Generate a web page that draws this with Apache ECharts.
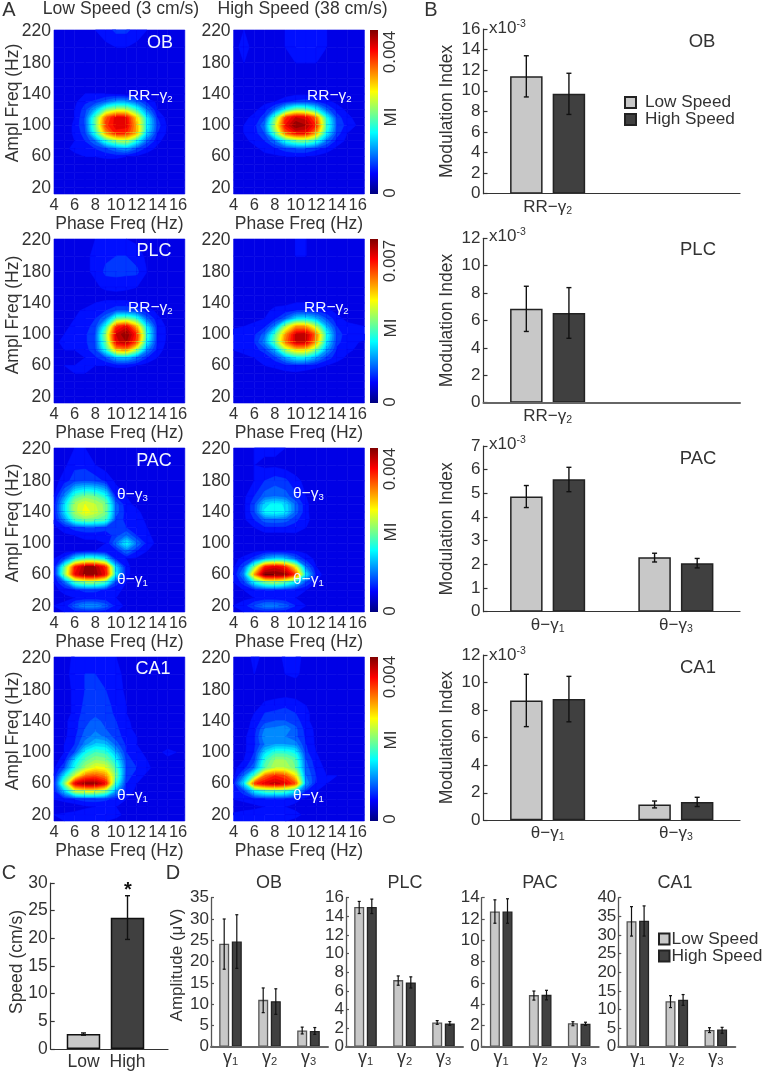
<!DOCTYPE html>
<html><head><meta charset="utf-8">
<style>html,body{margin:0;padding:0;background:#fff}#c{width:762px;height:1072px}</style>
<script src="https://cdn.jsdelivr.net/npm/echarts@6/dist/echarts.min.js"></script>
</head><body><div id="c"></div>
<script>
// ---------- comodulogram grids (percent of colour-bar range), rows top to bottom ----------
const phaseNodes=[4,5,6,7,8,9,10,11,12,13,14,15,16.65];
const amplNodes=[222,200,180,160,150,140,130,120,110,100,90,80,70,60,50,40,30,20,12];
const heatOBLow=[
[10,11,11,11,12,14,17,17,14,12,11,10,10],
[10,12,10,10,10,11,12,12,11,10,10,10,10],
[9,9,8,8,8,8,8,8,8,8,9,9,9],
[8,8,8,8,8,8,8,8,8,8,8,8,9],
[8,8,8,8,8,8,8,8,8,8,8,8,8],
[8,8,9,12,12,12,11,10,9,8,8,8,8],
[8,8,11,15,17,22,28,28,22,15,11,8,8],
[8,9,12,18,30,48,56,56,42,24,12,9,8],
[8,9,12,20,46,78,90,88,66,36,16,10,8],
[8,9,13,20,48,82,90,90,70,38,18,11,9],
[8,9,13,18,42,72,86,84,70,34,16,11,9],
[9,10,12,16,24,42,52,56,40,22,13,10,9],
[10,11,13,14,16,19,24,28,20,14,11,9,9],
[11,11,11,12,12,13,13,12,11,10,9,9,9],
[10,10,10,10,9,9,9,9,9,9,9,9,9],
[9,9,9,9,9,9,9,9,9,9,9,9,9],
[9,9,9,9,9,9,9,9,9,9,9,9,9],
[9,9,9,9,9,9,10,9,9,9,9,9,9],
[9,9,9,9,9,9,9,9,9,9,9,9,9]];
const heatOBHigh=[
[11,12,11,9,9,12,12,12,12,12,11,9,9],
[11,13,11,9,9,12,12,12,12,12,11,9,9],
[11,12,11,10,9,11,12,12,12,11,10,9,9],
[9,11,10,9,9,9,9,9,9,9,9,9,9],
[9,9,9,9,9,9,9,9,9,9,9,9,9],
[9,9,9,9,10,10,11,11,11,10,9,9,9],
[9,9,9,11,12,15,17,18,16,13,11,9,9],
[8,9,11,14,22,38,50,48,38,22,14,11,9],
[8,11,13,18,46,82,92,90,76,40,18,13,9],
[9,12,14,24,56,88,100,96,84,44,20,14,10],
[10,12,14,20,48,78,88,88,72,38,18,12,10],
[10,11,13,16,24,40,48,50,42,24,14,11,10],
[9,10,11,13,15,18,20,20,17,14,11,10,9],
[9,9,10,11,11,12,12,12,11,10,9,9,9],
[8,8,9,9,9,9,9,9,9,9,8,8,8],
[8,8,8,8,8,8,8,8,8,8,8,8,8],
[8,8,8,8,8,8,8,8,8,8,8,8,8],
[9,8,8,8,8,8,8,8,8,8,8,8,8],
[12,9,9,8,8,8,8,8,8,8,8,8,8]];
const heatPLCLow=[
[9,9,9,9,12,12,12,12,11,9,9,9,9],
[9,9,9,11,13,15,16,16,14,11,9,9,9],
[10,9,9,11,13,17,17,17,17,12,10,9,9],
[11,9,9,10,11,13,14,13,12,10,9,9,9],
[11,9,9,9,9,10,10,10,9,9,9,9,9],
[9,9,9,10,12,13,13,13,12,10,9,9,9],
[9,9,11,13,14,16,20,20,18,14,11,9,9],
[9,10,12,14,16,24,46,50,42,22,13,10,9],
[9,11,13,14,18,40,82,90,70,36,15,11,9],
[10,12,13,15,20,52,92,100,84,42,16,11,9],
[11,13,13,15,20,48,90,96,80,38,15,11,9],
[11,12,12,14,19,40,70,74,54,26,14,10,9],
[10,10,11,12,15,20,30,32,24,16,12,9,9],
[11,12,12,12,12,12,13,13,12,10,9,9,9],
[10,11,12,12,11,10,9,9,9,9,9,9,9],
[9,9,9,9,9,9,9,9,9,9,9,9,9],
[10,9,9,9,9,9,9,9,9,9,9,9,9],
[12,9,9,10,9,9,9,9,9,9,9,9,9],
[9,9,9,9,9,9,9,9,9,9,9,9,9]];
const heatPLCHigh=[
[9,9,9,9,9,11,12,12,10,9,9,9,9],
[9,9,9,10,9,10,12,12,10,9,9,9,9],
[9,9,12,10,9,9,10,10,9,9,9,9,9],
[10,11,11,10,9,9,9,9,9,9,9,9,9],
[9,10,10,10,9,9,9,9,9,9,9,9,9],
[9,9,9,10,11,11,12,12,12,11,9,9,9],
[9,9,10,11,13,14,16,16,15,13,11,9,9],
[9,10,11,12,15,22,34,36,30,20,13,11,10],
[11,12,13,15,26,54,72,72,56,30,16,13,12],
[14,15,15,22,44,72,92,94,76,40,18,14,15],
[14,15,16,26,48,76,92,92,72,36,17,14,11],
[12,13,14,18,30,54,66,66,50,28,15,13,10],
[10,11,12,13,18,28,36,36,28,18,14,11,9],
[9,10,11,12,13,14,16,15,13,12,10,9,9],
[9,9,9,10,10,11,11,10,10,9,9,9,9],
[9,9,9,9,9,9,9,9,9,9,9,9,9],
[9,9,9,9,9,9,9,9,9,9,9,9,9],
[11,11,9,9,9,9,9,9,9,9,9,9,9],
[11,10,9,9,9,9,9,9,9,9,9,9,9]];
const heatPACLow=[
[9,10,12,12,10,10,9,9,9,9,9,9,9],
[9,11,15,15,12,10,9,9,9,9,9,9,9],
[10,14,18,19,18,15,11,10,9,9,9,9,9],
[12,26,44,50,48,40,15,12,10,9,9,9,9],
[13,34,54,60,56,50,22,13,11,9,9,9,9],
[13,34,54,62,58,50,22,14,13,10,9,9,9],
[13,26,44,50,48,44,18,15,14,11,9,9,9],
[11,14,18,20,20,18,17,16,14,12,10,9,9],
[10,11,12,13,13,13,18,24,16,13,10,9,9],
[9,10,11,11,11,12,24,38,24,14,11,9,9],
[9,10,11,12,12,12,14,24,16,12,10,9,9],
[12,18,36,44,44,36,15,12,11,10,9,9,9],
[12,46,84,96,96,84,34,13,10,9,9,9,9],
[12,50,88,98,98,88,37,13,10,9,9,9,9],
[12,22,44,52,52,44,18,12,10,9,9,9,9],
[11,13,15,17,17,15,13,11,9,9,9,9,9],
[11,11,12,13,13,13,12,10,9,9,9,9,9],
[12,13,22,27,27,22,14,11,9,9,9,9,9],
[11,12,14,14,14,13,12,10,9,9,9,9,9]];
const heatPACHigh=[
[10,10,12,13,13,12,10,9,9,9,9,9,9],
[9,10,12,11,11,10,10,9,9,9,9,9,9],
[9,10,12,16,18,17,13,11,9,9,9,9,9],
[9,11,16,22,24,22,17,12,9,9,9,9,9],
[9,11,19,34,38,35,22,13,9,9,9,9,9],
[9,11,19,37,39,36,22,13,9,9,9,9,9],
[9,11,16,22,23,22,17,13,10,9,9,9,9],
[9,10,12,15,15,15,14,12,10,9,9,9,9],
[10,10,10,10,10,10,11,11,9,9,9,9,9],
[10,9,9,9,9,9,10,11,10,9,9,9,9],
[10,10,11,12,12,12,12,11,10,9,9,9,9],
[11,13,18,28,34,32,22,14,11,10,9,9,9],
[11,20,50,84,90,84,62,24,12,10,9,9,9],
[12,26,72,100,100,98,82,36,14,10,9,9,9],
[12,18,38,50,54,48,36,20,12,9,9,9,9],
[11,12,14,16,16,15,13,12,10,9,9,9,9],
[11,11,12,13,13,12,12,11,9,9,9,9,9],
[12,14,20,25,25,22,16,12,10,9,9,9,9],
[11,12,13,14,13,13,12,10,9,9,9,9,9]];
const heatCA1Low=[
[9,10,13,15,15,14,12,10,9,9,9,9,9],
[9,10,14,16,16,15,13,11,9,8,8,9,9],
[9,10,13,16,17,16,14,11,9,9,9,9,9],
[9,10,13,17,18,17,15,12,10,9,9,9,9],
[9,10,13,18,19,18,15,12,10,9,9,9,9],
[9,11,14,19,21,19,16,13,10,9,9,9,9],
[9,11,14,20,23,20,17,13,11,9,9,9,9],
[9,11,15,22,26,23,18,14,12,9,9,9,9],
[10,12,16,26,33,32,22,15,12,10,9,9,9],
[10,12,20,38,44,42,30,16,13,11,10,14,10],
[10,14,34,46,52,50,38,18,14,12,10,10,9],
[11,20,40,54,62,60,45,20,16,13,10,9,9],
[12,36,58,76,80,74,50,18,14,11,9,9,9],
[14,50,90,98,98,88,42,16,12,10,9,9,9],
[14,32,56,60,60,52,28,14,11,9,9,9,9],
[12,14,16,18,18,17,14,12,10,9,9,9,9],
[10,8,9,11,12,12,12,10,9,9,9,9,9],
[12,13,14,15,15,14,13,11,9,9,9,9,9],
[11,12,13,13,13,12,11,9,9,9,9,9,9]];
const heatCA1High=[
[9,10,13,11,10,13,14,10,9,9,9,9,9],
[9,10,12,10,10,12,13,10,9,9,9,9,9],
[10,9,9,9,9,9,9,9,9,9,9,9,9],
[12,10,10,13,14,15,14,12,10,9,9,9,9],
[10,10,12,16,17,18,16,13,10,9,9,9,9],
[9,10,13,18,20,20,18,13,10,9,9,9,9],
[9,10,14,24,25,27,21,14,11,9,9,9,9],
[10,11,15,27,25,24,21,15,11,9,9,9,9],
[10,11,15,24,28,28,26,16,11,10,9,10,9],
[10,11,16,34,42,42,38,17,12,10,10,10,9],
[10,12,18,42,52,52,46,20,13,10,10,10,9],
[11,14,24,46,56,56,48,22,14,11,10,9,9],
[10,24,46,76,84,80,64,24,16,12,12,10,9],
[14,36,82,90,94,90,80,28,14,12,10,10,10],
[13,18,36,44,46,44,34,16,12,10,9,9,9],
[12,13,14,15,15,15,13,11,10,9,9,9,9],
[9,10,11,12,12,12,11,10,9,9,9,9,9],
[13,14,14,15,15,14,13,11,9,9,9,9,9],
[12,12,13,13,13,12,11,9,9,9,9,9,9]];
const phaseTicks=[4,6,8,10,12,14,16];
const amplTicks=[20,60,100,140,180,220];

// ---------- Modulation index (x10^-3) ----------
const catRR=['RR−γ2',''];
const catTheta=['θ−γ1','θ−γ3'];
const miOBLow=[11.4], miOBLowErr=[[9.4,13.4]], miOBHigh=[9.7], miOBHighErr=[[7.7,11.7]];
const miPLCLow=[6.85], miPLCLowErr=[[5.2,8.5]], miPLCHigh=[6.55], miPLCHighErr=[[4.7,8.4]];
const miPACLow=[4.87,2.3], miPACLowErr=[[4.4,5.33],[2.1,2.47]], miPACHigh=[5.6,2.05], miPACHighErr=[[5.07,6.1],[1.85,2.25]];
const miCA1Low=[8.7,1.15], miCA1LowErr=[[6.8,10.6],[0.9,1.4]], miCA1High=[8.8,1.33], miCA1HighErr=[[7.15,10.45],[1,1.67]];

// ---------- Speed ----------
const speedCats=['Low','High'];
const speedVals=[2.7,23.7];
const speedErr=[[2.5,2.9],[19.8,27.7]];

// ---------- Amplitude (uV) ----------
const catGamma=['γ1','γ2','γ3'];
const ampOBLow=[24.2,11,3.8], ampOBLowErr=[[18.2,30],[8,13.8],[3,4.6]];
const ampOBHigh=[24.7,10.7,3.7], ampOBHighErr=[[18.4,31],[7.6,13.6],[2.9,4.5]];
const ampPLCLow=[15,7.15,2.6], ampPLCLowErr=[[14.3,15.6],[6.6,7.6],[2.4,2.8]];
const ampPLCHigh=[15,6.9,2.5], ampPLCHighErr=[[14.3,15.85],[6.3,7.5],[2.3,2.7]];
const ampPACLow=[12.7,4.85,2.2], ampPACLowErr=[[11.6,13.8],[4.38,5.23],[1.97,2.35]];
const ampPACHigh=[12.7,4.87,2.15], ampPACHighErr=[[11.6,13.9],[4.4,5.3],[2,2.3]];
const ampCA1Low=[33.7,12.2,4.5], ampCA1LowErr=[[29.7,37.6],[10.5,13.7],[3.8,5.1]];
const ampCA1High=[33.8,12.6,4.6], ampCA1HighErr=[[29.7,37.8],[11.1,14],[3.6,5.2]];

// ---------- styling ----------
const FF='"Liberation Sans",Arial,sans-serif', TXT='#333';
const LOW='#c8c8c8', HIGH='#404040';
const LEVEL_STEP=4;

function jet(v){
  const c=t=>Math.round(255*Math.max(0,Math.min(1,t)));
  const r=1.5-Math.abs(4*v-3), g=1.5-Math.abs(4*v-2), b=1.5-Math.abs(4*v-1);
  return `rgb(${c(r)},${c(g)},${c(b)})`;
}
function clipQuad(pts,L){ // keep the part of a quad with value >= L (filled contour)
  const out=[];
  for(let i=0;i<pts.length;i++){
    const a=pts[i], b=pts[(i+1)%pts.length];
    if(a[2]>=L) out.push(a);
    if((a[2]>=L)!==(b[2]>=L)){
      const t=(L-a[2])/(b[2]-a[2]);
      out.push([a[0]+t*(b[0]-a[0]),a[1]+t*(b[1]-a[1]),L]);
    }
  }
  return out;
}

const grids=[],xAxes=[],yAxes=[],series=[],graphics=[];
function addGrid(l,t,r,b,xa,ya){
  grids.push({left:l,top:t,width:r-l,height:b-t,containLabel:false});
  const i=grids.length-1;
  xAxes.push(Object.assign({gridIndex:i},xa));
  yAxes.push(Object.assign({gridIndex:i},ya));
  return i;
}
function text(x,y,t,size,opt){
  graphics.push(Object.assign({type:'text',x,y,z:100,silent:true,rotation:(opt&&opt.rot)||0,
    style:{text:t,fontFamily:FF,fontSize:size,fill:(opt&&opt.fill)||TXT,align:(opt&&opt.align)||'center',verticalAlign:'middle',
      fontWeight:(opt&&opt.weight)||'normal',
      rich:{s:{fontFamily:FF,fontSize:size*0.62,fill:(opt&&opt.fill)||TXT,verticalAlign:'bottom',padding:[size*0.45,0,0,0]},
            u:{fontFamily:FF,fontSize:size*0.62,fill:(opt&&opt.fill)||TXT,verticalAlign:'top',padding:[0,0,size*0.45,0]},
            b:{fontFamily:FF,fontSize:size,fill:(opt&&opt.fill)||TXT}}}}));
}
const subFmt=v=>{const m=/^(.*)(\d)$/.exec(v);return m?`{b|${m[1]}}{s|${m[2]}}`:v;};
const subRich=(size)=>({b:{fontFamily:FF,fontSize:size,color:TXT},s:{fontFamily:FF,fontSize:size*0.62,color:TXT,verticalAlign:'bottom',padding:[size*0.45,0,0,0]}});

function heat(l,t,mat){
  const r=l+130.8,b=t+164;
  const i=addGrid(l,t,r,b,
   {type:'value',min:4,max:16.65,name:'Phase Freq (Hz)',nameLocation:'middle',nameGap:19,
    nameTextStyle:{fontFamily:FF,fontSize:17.5,color:TXT},
    axisLine:{show:false},axisTick:{show:false},splitLine:{show:false},
    axisLabel:{customValues:phaseTicks,margin:3,fontFamily:FF,fontSize:16.5,color:TXT}},
   {type:'value',min:12,max:222,
    axisLine:{show:false},axisTick:{show:false},splitLine:{show:false},
    axisLabel:{customValues:amplTicks,margin:3,fontFamily:FF,fontSize:17.5,color:TXT}});
  const data=[];
  for(let rr=0;rr<amplNodes.length-1;rr++)for(let c=0;c<phaseNodes.length-1;c++)
    data.push([phaseNodes[c],amplNodes[rr],c,rr]);
  series.push({type:'custom',coordinateSystem:'cartesian2d',xAxisIndex:i,yAxisIndex:i,silent:true,
    animation:false,progressive:0,encode:{x:0,y:1},data,
    renderItem(p,api){
      const c=api.value(2),rr=api.value(3);
      const corner=(ci,ri)=>{const q=api.coord([phaseNodes[ci],amplNodes[ri]]);return [q[0],q[1],mat[ri][ci]];};
      const pts=[corner(c,rr),corner(c+1,rr),corner(c+1,rr+1),corner(c,rr+1)];
      const vals=pts.map(q=>q[2]);
      const lo=Math.floor(Math.min(...vals)/LEVEL_STEP)*LEVEL_STEP, hi=Math.max(...vals);
      const children=[];
      for(let L=lo;L<=hi;L+=LEVEL_STEP){
        const poly=L===lo?pts:clipQuad(pts,L);
        if(poly.length<3)continue;
        const col=jet((L+LEVEL_STEP/2)/100);
        children.push({type:'polygon',shape:{points:poly.map(q=>[q[0],q[1]])},
          style:{fill:col,stroke:col,lineWidth:0.6}});
      }
      return {type:'group',children};
    }});
}
function colorbar(t,peak){
  const i=addGrid(370,t,378,t+164,
    {type:'category',data:['MI'],show:false},
    {type:'value',min:0,max:peak,show:false});
  const stops=[];
  for(let k=0;k<=32;k++)stops.push({offset:k/32,color:jet(k/32)});
  series.push({type:'bar',xAxisIndex:i,yAxisIndex:i,data:[peak],barWidth:'100%',animation:false,silent:true,
    itemStyle:{color:{type:'linear',x:0,y:1,x2:0,y2:0,colorStops:stops}}});
}
function errSeries(i,vals,offset,cap,lw,col){
  series.push({type:'custom',coordinateSystem:'cartesian2d',xAxisIndex:i,yAxisIndex:i,silent:true,animation:false,z:5,
    encode:{x:0,y:[1,2]},
    data:vals.map((e,k)=>[k,e[0],e[1]]),
    renderItem(p,api){
      const a=api.coord([api.value(0),api.value(1)]),b=api.coord([api.value(0),api.value(2)]);
      const x=a[0]+offset,st={stroke:col,lineWidth:lw};
      return {type:'group',children:[
        {type:'line',shape:{x1:x,y1:a[1],x2:x,y2:b[1]},style:st},
        {type:'line',shape:{x1:x-cap,y1:a[1],x2:x+cap,y2:a[1]},style:st},
        {type:'line',shape:{x1:x-cap,y1:b[1],x2:x+cap,y2:b[1]},style:st}]};
    }});
}
function miPanel(t,b,max,intv,cats,low,lowE,high,highE,axisCol,axisW){
  const i=addGrid(483.5,t,740,b,
   {type:'category',data:cats,axisTick:{show:false},z:6,
    axisLine:{lineStyle:{color:axisCol,width:axisW}},
    axisLabel:{interval:0,formatter:subFmt,rich:subRich(17),margin:4}},
   {type:'value',min:0,max,interval:intv,name:'Modulation Index',nameLocation:'middle',nameGap:27,
    nameTextStyle:{fontFamily:FF,fontSize:17.5,color:TXT},
    axisLine:{show:true,lineStyle:{color:'#333',width:1.2}},
    axisTick:{show:true,inside:true,length:4,lineStyle:{color:'#333',width:1.2}},splitLine:{show:false},
    axisLabel:{margin:3,fontFamily:FF,fontSize:17,color:TXT}});
  series.push({type:'bar',name:'Low Speed',xAxisIndex:i,yAxisIndex:i,data:low,barWidth:32.5,barGap:'31%',animation:false,silent:true,
    itemStyle:{color:LOW,borderColor:'#222',borderWidth:1.5}});
  series.push({type:'bar',name:'High Speed',xAxisIndex:i,yAxisIndex:i,data:high,barWidth:32.5,barGap:'31%',animation:false,silent:true,
    itemStyle:{color:HIGH,borderColor:'#222',borderWidth:1.5}});
  errSeries(i,lowE,-21.3,2.5,1.4,'#111');
  errSeries(i,highE,21.3,2.5,1.4,'#111');
}
function ampPanel(l,max,intv,low,lowE,high,highE){
  const i=addGrid(l,897.7,l+117,1046.7,
   {type:'category',data:catGamma,axisTick:{show:false},z:6,
    axisLine:{lineStyle:{color:'#666',width:2}},
    axisLabel:{interval:0,formatter:subFmt,rich:subRich(18),margin:2}},
   {type:'value',min:0,max,interval:intv,
    axisLine:{show:true,lineStyle:{color:'#555',width:1.3}},
    axisTick:{show:true,inside:true,length:3,lineStyle:{color:'#555',width:1.2}},splitLine:{show:false},
    axisLabel:{margin:2,fontFamily:FF,fontSize:17,color:TXT}});
  series.push({type:'bar',name:'Low Speed',xAxisIndex:i,yAxisIndex:i,data:low,barWidth:10,barGap:'26%',animation:false,silent:true,
    itemStyle:{color:LOW,borderColor:'#555',borderWidth:1.3}});
  series.push({type:'bar',name:'High Speed',xAxisIndex:i,yAxisIndex:i,data:high,barWidth:10,barGap:'26%',animation:false,silent:true,
    itemStyle:{color:HIGH,borderColor:'#222',borderWidth:1.3}});
  errSeries(i,lowE,-6.3,1.5,1.2,'#111');
  errSeries(i,highE,6.3,1.5,1.2,'#111');
}

// ---------- build: panel A ----------
const heatTops=[30,239,448,657];
[[heatOBLow,heatOBHigh],[heatPLCLow,heatPLCHigh],[heatPACLow,heatPACHigh],[heatCA1Low,heatCA1High]].forEach((m,k)=>{
  heat(54,heatTops[k],m[0]);
  heat(233.6,heatTops[k],m[1]);
});
[103,315,523,731].forEach(y=>text(13,y,'Ampl Freq (Hz)',17.5,{rot:Math.PI/2}));
[0.004,0.007,0.004,0.004].forEach((p,k)=>colorbar(heatTops[k],p));
[['0.004',52,193,117],['0.007',261,402,328],['0.004',469,611,532],['0.004',677,819,740]].forEach(a=>{
  text(390,a[1],a[0],17,{rot:Math.PI/2});
  text(390,a[2],'0',17,{rot:Math.PI/2});
  text(391,a[3],'MI',17,{rot:Math.PI/2});
});
const W='#f2f6ff';
text(160,43,'OB',18,{fill:W});text(154,251,'PLC',18,{fill:W});text(154,461,'PAC',18,{fill:W});text(153,669,'CA1',18,{fill:W});
const ann=(x,y,a,sub)=>text(x,y,`{b|${a}}{s|${sub}}`,15.5,{fill:W,align:'left'});
ann(128,96,'RR−γ','2');ann(307,96,'RR−γ','2');
ann(128,308,'RR−γ','2');ann(304,308,'RR−γ','2');
ann(117,495,'θ−γ','3');ann(293,494,'θ−γ','3');
ann(117,580,'θ−γ','1');ann(293,580,'θ−γ','1');
ann(117,796,'θ−γ','1');ann(293,796,'θ−γ','1');
text(121,9,'Low Speed (3 cm/s)',17.6);text(302.5,9,'High Speed (38 cm/s)',17.6);

// ---------- panel B ----------
miPanel(29,193.7,16,2,catRR,miOBLow,miOBLowErr,miOBHigh,miOBHighErr,'#333',1.2);
miPanel(238.3,402.7,12,2,catRR,miPLCLow,miPLCLowErr,miPLCHigh,miPLCHighErr,'#666',2);
miPanel(446,611.7,7,1,catTheta,miPACLow,miPACLowErr,miPACHigh,miPACHighErr,'#333',1.2);
miPanel(655,820.3,12,2,catTheta,miCA1Low,miCA1LowErr,miCA1High,miCA1HighErr,'#333',1.2);
[28,236,444,655].forEach(y=>text(489,y,'{b|x10}{u|-3}',17,{align:'left'}));
text(702,42,'OB',18.5);text(698,250,'PLC',18.5);text(698,459,'PAC',18.5);text(698,668,'CA1',18.5);

// ---------- panel C ----------
{
  const i=addGrid(50.7,883,168,1049,
   {type:'value',min:0.255,max:2.92,axisLine:{lineStyle:{color:'#333',width:1.2}},axisTick:{show:false},splitLine:{show:false},
    axisLabel:{customValues:[1,2],formatter:v=>speedCats[v-1],fontFamily:FF,fontSize:17.5,color:TXT,margin:4}},
   {type:'value',min:0,max:30,interval:5,
    axisLine:{show:true,lineStyle:{color:'#333',width:1.2}},
    axisTick:{show:true,inside:true,length:4,lineStyle:{color:'#333',width:1.2}},splitLine:{show:false},
    axisLabel:{margin:3,fontFamily:FF,fontSize:17.5,color:TXT}});
  series.push({type:'bar',name:'Speed',xAxisIndex:i,yAxisIndex:i,barWidth:33.5,animation:false,silent:true,
    data:[{value:[1,speedVals[0]],itemStyle:{color:LOW}},{value:[2,speedVals[1]],itemStyle:{color:HIGH}}],
    itemStyle:{borderColor:'#111',borderWidth:1.5}});
  series.push({type:'custom',coordinateSystem:'cartesian2d',xAxisIndex:i,yAxisIndex:i,silent:true,animation:false,z:5,
    encode:{x:0,y:[1,2]},data:speedErr.map((e,k)=>[k+1,e[0],e[1]]),
    renderItem(p,api){
      const a=api.coord([api.value(0),api.value(1)]),b=api.coord([api.value(0),api.value(2)]),st={stroke:'#111',lineWidth:1.4};
      return {type:'group',children:[
        {type:'line',shape:{x1:a[0],y1:a[1],x2:a[0],y2:b[1]},style:st},
        {type:'line',shape:{x1:a[0]-2.5,y1:a[1],x2:a[0]+2.5,y2:a[1]},style:st},
        {type:'line',shape:{x1:a[0]-2.5,y1:b[1],x2:a[0]+2.5,y2:b[1]},style:st}]};
    }});
}
text(17,962,'Speed (cm/s)',17.5,{rot:Math.PI/2});
text(128,890,'*',20,{fill:'#111',weight:'bold'});

// ---------- panel D ----------
ampPanel(211,35,5,ampOBLow,ampOBLowErr,ampOBHigh,ampOBHighErr);
ampPanel(346,16,2,ampPLCLow,ampPLCLowErr,ampPLCHigh,ampPLCHighErr);
ampPanel(481.7,14,2,ampPACLow,ampPACLowErr,ampPACHigh,ampPACHighErr);
ampPanel(618.3,40,5,ampCA1Low,ampCA1LowErr,ampCA1High,ampCA1HighErr);
text(269,883,'OB',18);text(405,883,'PLC',18);text(540,883,'PAC',18);text(675,883,'CA1',18);
text(177,965,'Amplitude (μV)',17,{rot:Math.PI/2});

// panel letters
text(9,10,'A',20);text(431,10,'B',20);text(9,873,'C',20);text(173,873,'D',20);

const chart=echarts.init(document.getElementById('c'),null,{renderer:'canvas'});
const legendText=(pad,size)=>({fontFamily:FF,fontSize:size,color:TXT,padding:[0,0,0,pad]});
chart.setOption({
  animation:false,backgroundColor:'#fff',
  grid:grids,xAxis:xAxes,yAxis:yAxes,series,graphic:graphics,
  legend:[
   {left:624,top:94,orient:'vertical',icon:'rect',itemWidth:11,itemHeight:11,itemGap:0,selectedMode:false,padding:0,
    data:['Low Speed','High Speed'],textStyle:legendText(4,17.2)},
   {left:658,top:930.5,orient:'vertical',icon:'rect',itemWidth:10.5,itemHeight:11,itemGap:0,selectedMode:false,padding:0,
    data:['Low Speed','High Speed'],textStyle:legendText(-3,17.4)}
  ]
});
</script></body></html>
